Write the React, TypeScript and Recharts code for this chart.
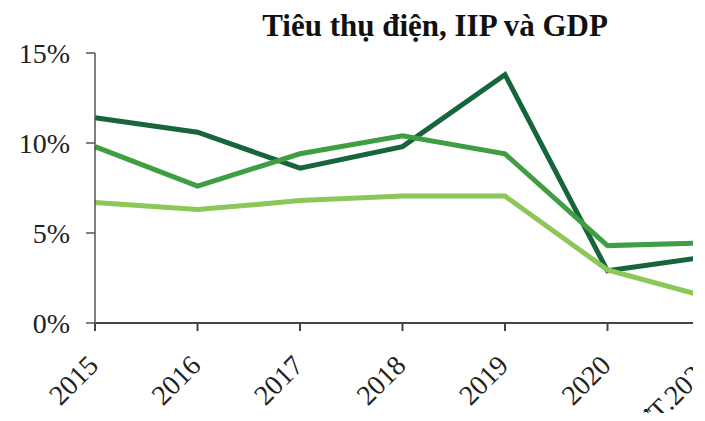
import { Line, LineChart, XAxis, YAxis } from "recharts";

const years = ["2015", "2016", "2017", "2018", "2019", "2020", "ƯT.2021"];
const dienNang = [11.4, 10.6, 8.6, 9.8, 13.8, 2.9, 3.7];
const iip = [9.8, 7.6, 9.4, 10.4, 9.4, 4.3, 4.45];
const gdp = [6.7, 6.3, 6.8, 7.05, 7.05, 2.95, 1.4];
const yTicks = [0, 5, 10, 15];

const data = years.map((year, i) => ({ year, dien: dienNang[i], iip: iip[i], gdp: gdp[i] }));

const FONT = "'Liberation Serif', 'Times New Roman', serif";

const YearTick = (props: any) => {
	const { x, y, payload } = props;
	const ax = x + 5;
	const ay = y + 36;
	return (
		<text
			x={ax}
			y={ay}
			transform={`rotate(-45 ${ax} ${ay})`}
			textAnchor="end"
			fontSize={28}
			fontFamily={FONT}
			fill="#222"
		>
			{payload.value}
		</text>
	);
};

export default function App() {
	return (
		<div style={{ position: "relative", width: 685, height: 405, overflow: "hidden", background: "#fff" }}>
			<div
				style={{
					position: "absolute",
					top: 0,
					left: 177,
					width: 500,
					textAlign: "center",
					fontFamily: FONT,
					fontWeight: "bold",
					fontSize: 31,
					lineHeight: "36px",
					color: "#111",
					whiteSpace: "nowrap",
				}}
			>
				Tiêu thụ điện, IIP và GDP
			</div>
			<LineChart width={720} height={405} data={data} margin={{ top: 45, right: 18, left: 27, bottom: 10 }}>
				<XAxis
					dataKey="year"
					height={80}
					stroke="#444"
					strokeWidth={2}
					tickSize={8}
					tickMargin={0}
					tick={<YearTick />}
					interval={0}
				/>
				<YAxis
					width={60}
					domain={[0, 15]}
					ticks={yTicks}
					tickFormatter={(v: number) => `${v}%`}
					stroke="#555"
					strokeWidth={1.5}
					tickSize={9}
					tickMargin={16}
					tick={{ fontSize: 28, fontFamily: FONT, fill: "#222" }}
				/>
				<Line type="linear" dataKey="dien" stroke="#17653a" strokeWidth={5} dot={false} isAnimationActive={false} />
				<Line type="linear" dataKey="iip" stroke="#3f9e42" strokeWidth={5} dot={false} isAnimationActive={false} />
				<Line type="linear" dataKey="gdp" stroke="#8cc75a" strokeWidth={5} dot={false} isAnimationActive={false} />
			</LineChart>
		</div>
	);
}
